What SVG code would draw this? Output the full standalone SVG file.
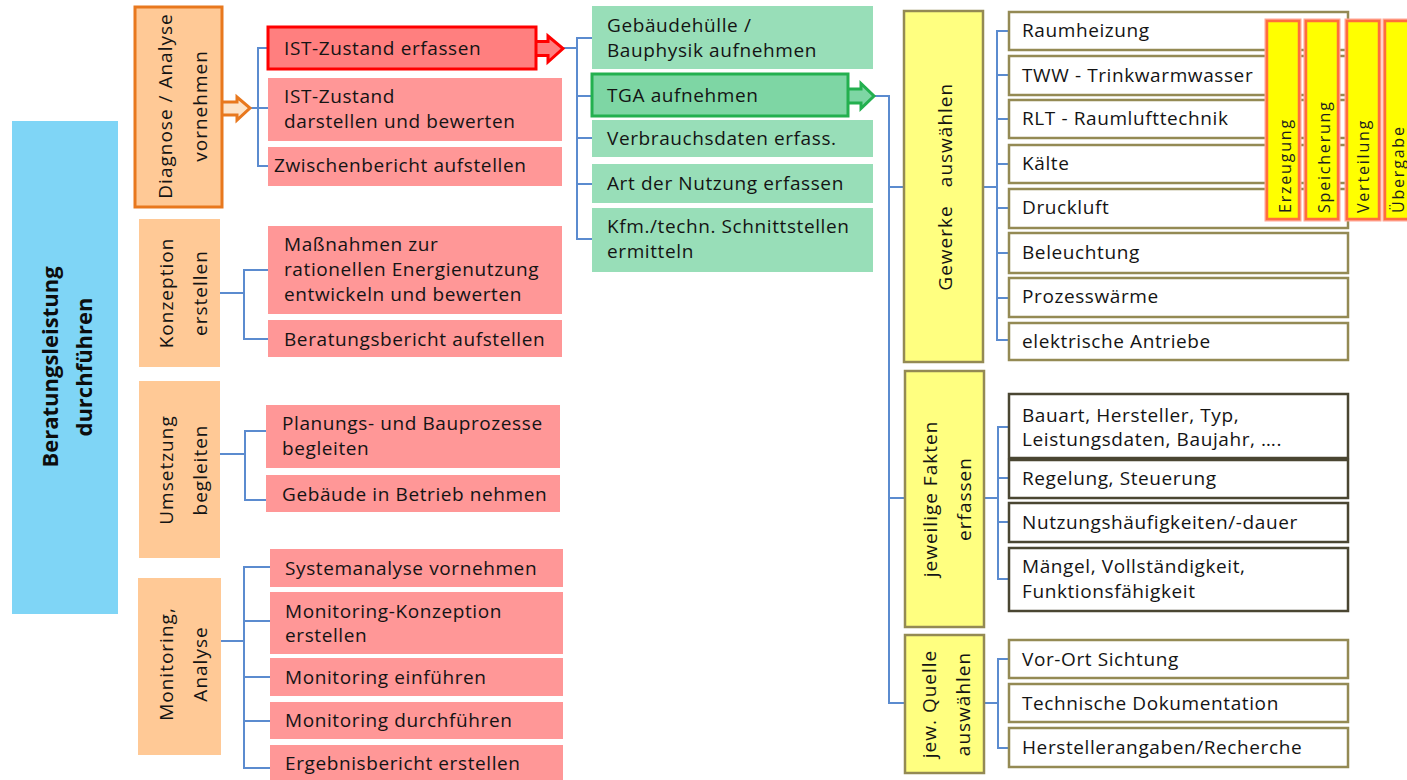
<svg xmlns="http://www.w3.org/2000/svg" width="1407" height="780" viewBox="0 0 1407 780">
  <style>
    .t { font-family: "Open Sans", "Noto Sans", sans-serif; font-size: 19px; letter-spacing: 0.6px; fill: #141414; }
    .v { font-family: "Open Sans", "Noto Sans", sans-serif; font-size: 19px; letter-spacing: 1px; fill: #141414; text-anchor: middle; }
    .vb { font-family: "Open Sans", "Noto Sans", sans-serif; font-size: 22px; font-weight: bold; fill: #0d0d0d; text-anchor: middle; }
    .s { font-family: "Open Sans", "Noto Sans", sans-serif; font-size: 16px; letter-spacing: 1.8px; fill: #1e1e1e; }
    .main { fill: #7fd5f6; }
    .phase { fill: #ffc996; }
    .task { fill: #ff9797; }
    .rec { fill: #98deb8; }
    .yel { fill: #ffff80; stroke: #948a54; stroke-width: 2.5; }
    .item { fill: #ffffff; stroke: #948a54; stroke-width: 2.5; }
    .fact { fill: #ffffff; stroke: #4a4632; stroke-width: 2.5; }
    .halo { fill: none; stroke: #ffa595; stroke-width: 5; }
    .strip { fill: #ffff00; stroke: #ff6e3c; stroke-width: 2.5; }
    .conn { fill: none; stroke: #5b8bcf; stroke-width: 2; }
  </style>

  <!-- connector lines -->
  <g id="connectors" class="conn">
    <path d="M268,48 H258 V166 H268 M249,108 H268"/>
    <path d="M220,293 H244 M268,270 H244 V339 H268"/>
    <path d="M220,454 H245 M266,431 H245 V500 H266"/>
    <path d="M221,641 H244 M270,567 H244 V768 H270 M244,621 H270 M244,677 H270 M244,721 H270"/>
    <path d="M563,48 H577 M592,38 H577 V239 H592 M577,96 H592 M577,138 H592 M577,184 H592"/>
    <path d="M874,96 H889 V703 H905 M889,187 H904 M889,498 H905"/>
    <path d="M983,187 H997 M1009,31 H997 V340 H1009 M997,75 H1009 M997,119 H1009 M997,164 H1009 M997,208 H1009 M997,253 H1009 M997,298 H1009"/>
    <path d="M984,498 H998 M1009,427 H998 V579 H1009 M998,478 H1009 M998,522 H1009"/>
    <path d="M984,703 H998 M1009,659 H998 V748 H1009"/>
  </g>

  <!-- root -->
  <g id="beratung">
    <rect class="main" x="12" y="121" width="106" height="493"/>
    <text class="vb" transform="translate(58,367) rotate(-90)">Beratungsleistung</text>
    <text class="vb" transform="translate(92,367) rotate(-90)">durchführen</text>
  </g>

  <!-- phases -->
  <g id="diagnose">
    <path d="M220,102 H237 V97 L250,108 L237,120 V115 H220 Z" fill="#fde3c8" stroke="#e8781e" stroke-width="3"/>
    <rect class="phase" x="135" y="7" width="87" height="200" stroke="#e8781e" stroke-width="3"/>
    <text class="v" transform="translate(172,106) rotate(-90)">Diagnose / Analyse</text>
    <text class="v" transform="translate(207,106) rotate(-90)">vornehmen</text>
  </g>
  <g id="konzeption">
    <rect class="phase" x="139" y="219" width="81" height="148"/>
    <text class="v" transform="translate(173,293) rotate(-90)">Konzeption</text>
    <text class="v" transform="translate(207,293) rotate(-90)">erstellen</text>
  </g>
  <g id="umsetzung">
    <rect class="phase" x="139" y="381" width="81" height="177"/>
    <text class="v" transform="translate(173,470) rotate(-90)">Umsetzung</text>
    <text class="v" transform="translate(207,470) rotate(-90)">begleiten</text>
  </g>
  <g id="monitoring">
    <rect class="phase" x="138" y="578" width="83" height="177"/>
    <text class="v" transform="translate(173,664) rotate(-90)">Monitoring,</text>
    <text class="v" transform="translate(207,664) rotate(-90)">Analyse</text>
  </g>

  <!-- diagnose tasks -->
  <g id="ist-erfassen">
    <path d="M534,41.5 H548 V36 L563,48.5 L548,62 V55.5 H534 Z" fill="#ff7f7f" stroke="#ff0000" stroke-width="3"/>
    <rect x="268" y="27" width="268" height="42" fill="#ff7f7f" stroke="#ff0000" stroke-width="3"/>
    <text class="t" x="284" y="55">IST-Zustand erfassen</text>
  </g>
  <g id="ist-darstellen">
    <rect class="task" x="268" y="78" width="294" height="63"/>
    <text class="t" x="284" y="103">IST-Zustand</text>
    <text class="t" x="284" y="128">darstellen und bewerten</text>
  </g>
  <g id="zwischenbericht">
    <rect class="task" x="268" y="147" width="294" height="39"/>
    <text class="t" x="274" y="172">Zwischenbericht aufstellen</text>
  </g>

  <!-- konzeption tasks -->
  <g id="massnahmen">
    <rect class="task" x="268" y="226" width="294" height="88"/>
    <text class="t" x="284" y="251">Maßnahmen zur</text>
    <text class="t" x="284" y="276">rationellen Energienutzung</text>
    <text class="t" x="284" y="301">entwickeln und bewerten</text>
  </g>
  <g id="beratungsbericht">
    <rect class="task" x="268" y="320" width="294" height="37"/>
    <text class="t" x="284" y="346">Beratungsbericht aufstellen</text>
  </g>

  <!-- umsetzung tasks -->
  <g id="planung">
    <rect class="task" x="266" y="405" width="294" height="63"/>
    <text class="t" x="282" y="430">Planungs- und Bauprozesse</text>
    <text class="t" x="282" y="455">begleiten</text>
  </g>
  <g id="betrieb">
    <rect class="task" x="266" y="475" width="294" height="37"/>
    <text class="t" x="282" y="501">Gebäude in Betrieb nehmen</text>
  </g>

  <!-- monitoring tasks -->
  <g id="systemanalyse">
    <rect class="task" x="270" y="549" width="293" height="38"/>
    <text class="t" x="285" y="575">Systemanalyse vornehmen</text>
  </g>
  <g id="mon-konzeption">
    <rect class="task" x="270" y="592" width="293" height="62"/>
    <text class="t" x="285" y="618">Monitoring-Konzeption</text>
    <text class="t" x="285" y="642">erstellen</text>
  </g>
  <g id="mon-einfuehren">
    <rect class="task" x="270" y="658" width="293" height="38"/>
    <text class="t" x="285" y="684">Monitoring einführen</text>
  </g>
  <g id="mon-durchfuehren">
    <rect class="task" x="270" y="702" width="293" height="37"/>
    <text class="t" x="285" y="727">Monitoring durchführen</text>
  </g>
  <g id="ergebnisbericht">
    <rect class="task" x="270" y="745" width="293" height="40"/>
    <text class="t" x="285" y="770">Ergebnisbericht erstellen</text>
  </g>

  <!-- recording steps -->
  <g id="gebaeudehuelle">
    <rect class="rec" x="592" y="6" width="281" height="63"/>
    <text class="t" x="607" y="32">Gebäudehülle /</text>
    <text class="t" x="607" y="57">Bauphysik aufnehmen</text>
  </g>
  <g id="tga">
    <path d="M846,89 H861 V83.5 L874,96 L861,108.5 V103 H846 Z" fill="#7ed6a4" stroke="#23b04f" stroke-width="3"/>
    <rect x="592" y="74" width="256" height="42" fill="#7ed6a4" stroke="#23b04f" stroke-width="3"/>
    <text class="t" x="607" y="102">TGA aufnehmen</text>
  </g>
  <g id="verbrauchsdaten">
    <rect class="rec" x="592" y="120" width="281" height="37"/>
    <text class="t" x="607" y="145">Verbrauchsdaten erfass.</text>
  </g>
  <g id="nutzung">
    <rect class="rec" x="592" y="164" width="281" height="39"/>
    <text class="t" x="607" y="190">Art der Nutzung erfassen</text>
  </g>
  <g id="schnittstellen">
    <rect class="rec" x="592" y="208" width="281" height="64"/>
    <text class="t" x="607" y="233">Kfm./techn. Schnittstellen</text>
    <text class="t" x="607" y="258">ermitteln</text>
  </g>

  <!-- TGA branches -->
  <g id="gewerke">
    <rect class="yel" x="904" y="11" width="79" height="351"/>
    <text class="v" transform="translate(952,248) rotate(-90)">Gewerke</text>
    <text class="v" transform="translate(952,135) rotate(-90)">auswählen</text>
  </g>
  <g id="fakten">
    <rect class="yel" x="905" y="371" width="79" height="256"/>
    <text class="v" transform="translate(937,499) rotate(-90)">jeweilige Fakten</text>
    <text class="v" transform="translate(971,499) rotate(-90)">erfassen</text>
  </g>
  <g id="quelle">
    <rect class="yel" x="905" y="635" width="79" height="138"/>
    <text class="v" transform="translate(936,704) rotate(-90)">jew. Quelle</text>
    <text class="v" transform="translate(970,704) rotate(-90)">auswählen</text>
  </g>

  <!-- Gewerke -->
  <g id="raumheizung"><rect class="item" x="1009" y="12" width="339" height="38"/><text class="t" x="1022" y="37">Raumheizung</text></g>
  <g id="tww"><rect class="item" x="1009" y="56" width="339" height="39"/><text class="t" x="1022" y="82">TWW - Trinkwarmwasser</text></g>
  <g id="rlt"><rect class="item" x="1009" y="100" width="339" height="38"/><text class="t" x="1022" y="125">RLT - Raumlufttechnik</text></g>
  <g id="kaelte"><rect class="item" x="1009" y="145" width="339" height="38"/><text class="t" x="1022" y="170">Kälte</text></g>
  <g id="druckluft"><rect class="item" x="1009" y="189" width="339" height="39"/><text class="t" x="1022" y="214">Druckluft</text></g>
  <g id="beleuchtung"><rect class="item" x="1009" y="233" width="339" height="40"/><text class="t" x="1022" y="259">Beleuchtung</text></g>
  <g id="prozesswaerme"><rect class="item" x="1009" y="278" width="339" height="39"/><text class="t" x="1022" y="303">Prozesswärme</text></g>
  <g id="antriebe"><rect class="item" x="1009" y="323" width="339" height="37"/><text class="t" x="1022" y="348">elektrische Antriebe</text></g>

  <!-- system stages across the trades -->
  <g id="erzeugung">
    <rect class="halo" x="1267" y="21" width="32" height="198"/>
    <rect class="strip" x="1267" y="21" width="32" height="198"/>
    <text class="s" transform="translate(1291,213) rotate(-90)">Erzeugung</text>
  </g>
  <g id="speicherung">
    <rect class="halo" x="1306" y="21" width="32" height="198"/>
    <rect class="strip" x="1306" y="21" width="32" height="198"/>
    <text class="s" transform="translate(1330,213) rotate(-90)">Speicherung</text>
  </g>
  <g id="verteilung">
    <rect class="halo" x="1347" y="21" width="32" height="198"/>
    <rect class="strip" x="1347" y="21" width="32" height="198"/>
    <text class="s" transform="translate(1369,213) rotate(-90)">Verteilung</text>
  </g>
  <g id="uebergabe">
    <rect class="halo" x="1385" y="21" width="32" height="198"/>
    <rect class="strip" x="1385" y="21" width="32" height="198"/>
    <text class="s" transform="translate(1404,213) rotate(-90)">Übergabe</text>
  </g>

  <!-- facts -->
  <g id="bauart"><rect class="fact" x="1009" y="394" width="339" height="64"/><text class="t" x="1022" y="422">Bauart, Hersteller, Typ,</text><text class="t" x="1022" y="446">Leistungsdaten, Baujahr, ….</text></g>
  <g id="regelung"><rect class="fact" x="1009" y="460" width="339" height="38"/><text class="t" x="1022" y="485">Regelung, Steuerung</text></g>
  <g id="nutzungshaeufigkeit"><rect class="fact" x="1009" y="503" width="339" height="39"/><text class="t" x="1022" y="529">Nutzungshäufigkeiten/-dauer</text></g>
  <g id="maengel"><rect class="fact" x="1009" y="548" width="339" height="63"/><text class="t" x="1022" y="573">Mängel, Vollständigkeit,</text><text class="t" x="1022" y="598">Funktionsfähigkeit</text></g>

  <!-- sources -->
  <g id="vor-ort"><rect class="item" x="1009" y="640" width="339" height="38"/><text class="t" x="1022" y="666">Vor-Ort Sichtung</text></g>
  <g id="dokumentation"><rect class="item" x="1009" y="684" width="339" height="38"/><text class="t" x="1022" y="710">Technische Dokumentation</text></g>
  <g id="herstellerangaben"><rect class="item" x="1009" y="728" width="339" height="39"/><text class="t" x="1022" y="754">Herstellerangaben/Recherche</text></g>
</svg>
